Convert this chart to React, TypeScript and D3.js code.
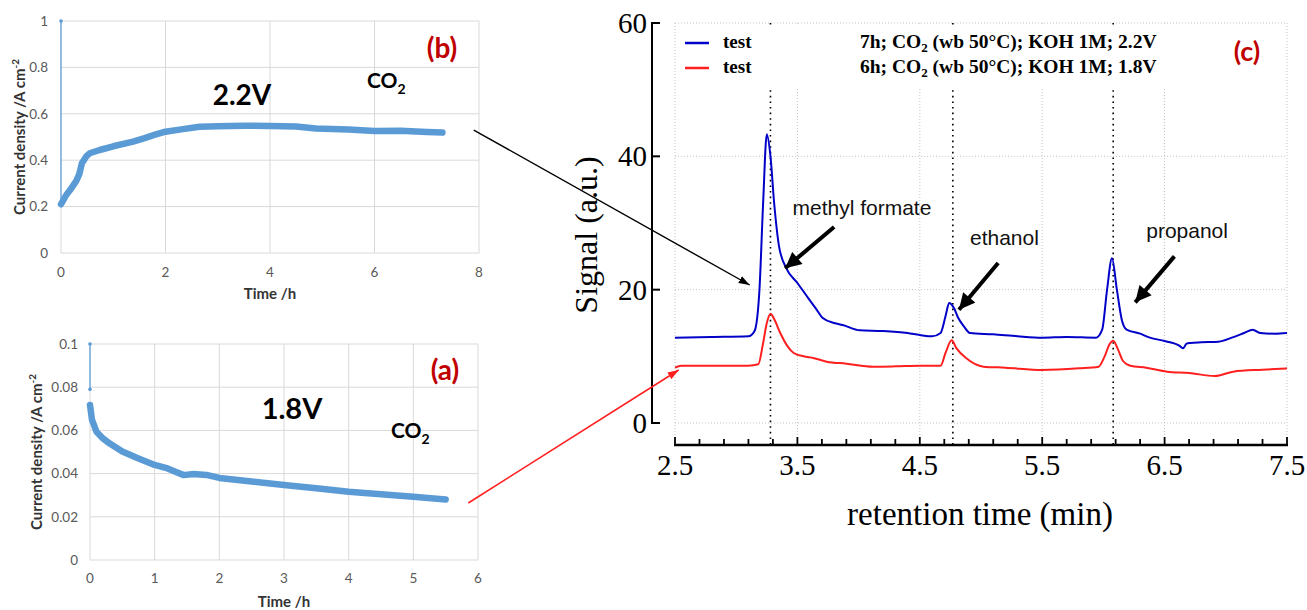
import React from 'react'
import * as d3 from 'd3'

// panel (b): 2.2V chronoamperometry
const bTime = [0, 0.05, 0.1, 0.17, 0.29, 0.35, 0.4, 0.48, 0.55, 0.74, 1.0, 1.38, 1.6, 1.8, 2.0, 2.3, 2.65, 3.0, 3.5, 4.0, 4.5, 4.88, 5.5, 6.0, 6.5, 7.0, 7.3]
const bCurrent = [0.21, 0.23, 0.25, 0.27, 0.31, 0.34, 0.387, 0.415, 0.43, 0.444, 0.46, 0.48, 0.495, 0.51, 0.523, 0.533, 0.544, 0.546, 0.549, 0.547, 0.545, 0.537, 0.532, 0.526, 0.527, 0.522, 0.519]
const bSpike = [1.0, 0.21]
const bTicksX = [0, 2, 4, 6, 8]
const bTicksY = [0, 0.2, 0.4, 0.6, 0.8, 1]
const bLabelsY = ['0', '0.2', '0.4', '0.6', '0.8', '1']

// panel (a): 1.8V chronoamperometry
const aTime = [0, 0.03, 0.1, 0.2, 0.3, 0.5, 0.75, 1.0, 1.2, 1.35, 1.45, 1.6, 1.8, 2.0, 2.5, 3.0, 3.5, 4.0, 4.5, 5.0, 5.5]
const aCurrent = [0.0718, 0.065, 0.0594, 0.0563, 0.054, 0.0502, 0.047, 0.044, 0.0424, 0.0405, 0.0393, 0.0398, 0.0394, 0.038, 0.0363, 0.0347, 0.0332, 0.0316, 0.0304, 0.0293, 0.028]
const aSpike = [0.1, 0.079]
const aTicksX = [0, 1, 2, 3, 4, 5, 6]
const aTicksY = [0, 0.02, 0.04, 0.06, 0.08, 0.1]
const aLabelsY = ['0', '0.02', '0.04', '0.06', '0.08', '0.1']

// panel (c): GC chromatograms
const blueTime = [2.5, 2.8, 3.1, 3.15, 3.19, 3.22, 3.25, 3.28, 3.31, 3.35, 3.41, 3.5, 3.59, 3.65, 3.71, 3.8, 3.87, 4.01, 4.2, 4.4, 4.5, 4.6, 4.67, 4.71, 4.74, 4.78, 4.81, 4.86, 4.91, 5.1, 5.3, 5.5, 5.7, 5.94, 5.99, 6.03, 6.07, 6.11, 6.15, 6.19, 6.3, 6.38, 6.5, 6.62, 6.65, 6.68, 6.71, 6.8, 6.94, 7.05, 7.15, 7.22, 7.28, 7.4, 7.5]
const blueSignal = [12.8, 12.9, 13.0, 13.8, 20, 33, 43.3, 40, 33, 26.5, 23.2, 21, 18.7, 17.2, 15.7, 15.0, 14.7, 13.9, 13.8, 13.5, 13.2, 13.0, 13.5, 16, 18.0, 17.2, 15.9, 14.5, 13.5, 13.3, 13.0, 12.8, 12.9, 12.8, 14, 20, 24.7, 20, 15.5, 14, 13.4, 12.8, 12.3, 11.6, 11.2, 11.9, 12.0, 12.1, 12.2, 12.8, 13.5, 14.0, 13.5, 13.4, 13.5]
const redTime = [2.5, 2.55, 2.8, 3.1, 3.18, 3.22, 3.25, 3.28, 3.31, 3.36, 3.42, 3.47, 3.55, 3.63, 3.74, 3.9, 4.12, 4.3, 4.5, 4.67, 4.71, 4.76, 4.8, 4.88, 5.02, 5.2, 5.5, 5.8, 5.96, 6.01, 6.05, 6.08, 6.12, 6.16, 6.22, 6.35, 6.52, 6.7, 6.91, 7.06, 7.3, 7.5]
const redSignal = [8.3, 8.6, 8.6, 8.6, 8.8, 12, 15, 16.4, 15.6, 13.5, 11.5, 10.5, 10.0, 9.75, 9.2, 8.9, 8.45, 8.5, 8.6, 8.6, 10.5, 12.4, 11.2, 9.7, 8.45, 8.3, 7.95, 8.2, 8.45, 10, 11.8, 12.35, 11, 9.3, 8.6, 8.3, 7.7, 7.5, 7.05, 7.7, 8.0, 8.2]
const rtTicks = [2.5, 3.5, 4.5, 5.5, 6.5, 7.5]
const signalTicks = [0, 20, 40, 60]
const peakMarks = [3.28, 4.77, 6.08]
const legendNames = ['test', 'test']
const legendHours = ['7h', '6h']
const legendVolts = ['2.2V', '1.8V']
const legendColors = ['#0000c8', '#ff1f1f']

const calibri = 'Lato, "Open Sans", sans-serif'
const times = '"Liberation Serif", "DejaVu Serif", serif'
const arial = '"Liberation Sans", Arial, sans-serif'
const excelBlue = '#5b9bd5'
const gridGrey = '#d9d9d9'
const darkRed = '#c00000'

// scales for the three panels
const bx = d3.scaleLinear().domain([0, 8]).range([61, 479])
const by = d3.scaleLinear().domain([0, 1]).range([253, 21])
const ax = d3.scaleLinear().domain([0, 6]).range([90, 478])
const ay = d3.scaleLinear().domain([0, 0.1]).range([560, 344])
const cx = d3.scaleLinear().domain([2.5, 7.5]).range([675, 1287])
const cy = d3.scaleLinear().domain([0, 60]).range([423, 23])

const ExcelPanel = (props: any) => {
    const { x, y, time, current, spike, ticksX, ticksY, labelsY, titleYx, xLabelY, xTitleY, labelRight } = props
    const line = d3.line<number>().x((d, i) => x(time[i])).y(d => y(d))
    const [x0, x1] = x.range()
    const [y0, y1] = y.range()
    return (
        <g>
            {ticksY.map((t: number) => (
                <line key={'gy' + t} x1={x0} x2={x1} y1={y(t)} y2={y(t)} stroke={gridGrey} strokeWidth={1} />
            ))}
            {ticksX.map((t: number) => (
                <line key={'gx' + t} x1={x(t)} x2={x(t)} y1={y0} y2={y1} stroke={gridGrey} strokeWidth={1} />
            ))}
            {ticksY.map((t: number, i: number) => (
                <text key={'ly' + t} x={labelRight} y={y(t)} dy="0.35em" textAnchor="end" fontFamily={calibri} fontSize={13.5} fill="#595959">{labelsY[i]}</text>
            ))}
            {ticksX.map((t: number) => (
                <text key={'lx' + t} x={x(t)} y={xLabelY} textAnchor="middle" fontFamily={calibri} fontSize={13.5} fill="#595959">{t}</text>
            ))}
            <text x={(x0 + x1) / 2} y={xTitleY} textAnchor="middle" fontFamily={calibri} fontWeight="bold" fontSize={15} fill="#333">Time /h</text>
            <text transform={`translate(${titleYx},${(y0 + y1) / 2}) rotate(-90)`} textAnchor="middle" fontFamily={calibri} fontWeight="bold" fontSize={15} fill="#333">
                Current density /A cm<tspan dy="-6" fontSize={10}>-2</tspan>
            </text>
            <line x1={x(0)} x2={x(0)} y1={y(spike[0])} y2={y(spike[1])} stroke={excelBlue} strokeWidth={1.2} />
            <circle cx={x(0)} cy={y(spike[0])} r={1.8} fill={excelBlue} />
            <circle cx={x(0)} cy={y(spike[1])} r={1.8} fill={excelBlue} />
            <path d={line(current) || ''} fill="none" stroke={excelBlue} strokeWidth={6.5} strokeLinejoin="round" strokeLinecap="round" />
        </g>
    )
}

const App = () => {
    const blueLine = d3.line<number>().x((d, i) => cx(blueTime[i])).y(d => cy(d)).curve(d3.curveMonotoneX)
    const redLine = d3.line<number>().x((d, i) => cx(redTime[i])).y(d => cy(d)).curve(d3.curveMonotoneX)
    const minorTicks = d3.range(0, 26).map(i => 2.5 + i * 0.2)

    // arrows joining panels
    const fromB = [bx(7.9), by(0.53)]
    const toBlue = [cx(3.11), cy(20.7)]
    const fromA = [ax(5.85), ay(0.0264)]
    const toRed = [cx(2.53), cy(7.95)]

    const notes = [
        { label: 'methyl formate', lx: 3.46, ly: 31.2, from: [3.8, 29.4], to: [3.4, 23.2] },
        { label: 'ethanol', lx: 4.91, ly: 26.7, from: [5.14, 24], to: [4.82, 17] },
        { label: 'propanol', lx: 6.35, ly: 27.7, from: [6.58, 25], to: [6.26, 18.1] },
    ]

    return (
        <svg width={1307} height={610} style={{ position: 'absolute', left: 0, top: 0, background: '#fff' }}>
            <defs>
                <marker id="headBlack" viewBox="0 0 10 7" refX={10} refY={3.5} markerWidth={11} markerHeight={8} markerUnits="userSpaceOnUse" orient="auto">
                    <path d="M0,0 L10,3.5 L0,7 z" fill="#000" />
                </marker>
                <marker id="headRed" viewBox="0 0 10 7" refX={10} refY={3.5} markerWidth={11} markerHeight={8} markerUnits="userSpaceOnUse" orient="auto">
                    <path d="M0,0 L10,3.5 L0,7 z" fill="#ff1f1f" />
                </marker>
                <marker id="headBig" viewBox="0 0 10 10" refX={10} refY={5} markerWidth={17} markerHeight={16} markerUnits="userSpaceOnUse" orient="auto">
                    <path d="M0,0 L10,5 L0,10 z" fill="#000" />
                </marker>
            </defs>

            {/* (b) */}
            <ExcelPanel x={bx} y={by} time={bTime} current={bCurrent} spike={bSpike} ticksX={bTicksX} ticksY={bTicksY} labelsY={bLabelsY}
                titleYx={25} xLabelY={277} xTitleY={299} labelRight={48} />
            <text x={242} y={105} textAnchor="middle" fontFamily={calibri} fontWeight="bold" fontSize={28} fill="#000">2.2V</text>
            <text x={367} y={88} fontFamily={calibri} fontWeight="bold" fontSize={21} fill="#000">CO<tspan dy="6" fontSize={14}>2</tspan></text>
            <text x={442} y={58} textAnchor="middle" fontFamily={calibri} fontWeight="bold" fontSize={28} fill={darkRed}>(b)</text>

            {/* (a) */}
            <ExcelPanel x={ax} y={ay} time={aTime} current={aCurrent} spike={aSpike} ticksX={aTicksX} ticksY={aTicksY} labelsY={aLabelsY}
                titleYx={42} xLabelY={583} xTitleY={607} labelRight={78} />
            <text x={292} y={419} textAnchor="middle" fontFamily={calibri} fontWeight="bold" fontSize={29} fill="#000">1.8V</text>
            <text x={391} y={438} fontFamily={calibri} fontWeight="bold" fontSize={21} fill="#000">CO<tspan dy="6" fontSize={14}>2</tspan></text>
            <text x={445} y={380} textAnchor="middle" fontFamily={calibri} fontWeight="bold" fontSize={28} fill={darkRed}>(a)</text>

            {/* (c) grid */}
            {signalTicks.map(t => (
                <line key={'cg' + t} x1={cx(2.5)} x2={cx(7.5)} y1={cy(t)} y2={cy(t)} stroke="#c4c4c4" strokeWidth={1} strokeDasharray="1,2" />
            ))}
            {rtTicks.map(t => (
                <line key={'cv' + t} x1={cx(t)} x2={cx(t)} y1={cy(60)} y2={445} stroke="#c4c4c4" strokeWidth={1} strokeDasharray="1,2" />
            ))}
            {peakMarks.map(t => (
                <line key={'pm' + t} x1={cx(t)} x2={cx(t)} y1={cy(60)} y2={445} stroke="#000" strokeWidth={1.6} strokeDasharray="1.6,4" />
            ))}
            {/* legend box hides the grid behind it */}
            <rect x={cx(2.5) + 2} y={cy(60) + 3} width={cx(7.5) - cx(2.5) - 5} height={62} fill="#fff" />

            {/* (c) axes */}
            <line x1={652} x2={652} y1={cy(0) + 1} y2={cy(60) - 1} stroke="#000" strokeWidth={2} />
            {signalTicks.map(t => (
                <g key={'yt' + t}>
                    <line x1={652} x2={660} y1={cy(t)} y2={cy(t)} stroke="#000" strokeWidth={2} />
                    <text x={647} y={cy(t)} dy="0.35em" textAnchor="end" fontFamily={times} fontSize={29} fill="#000">{t}</text>
                </g>
            ))}
            <line x1={cx(2.5) - 1} x2={cx(7.5) + 1} y1={445} y2={445} stroke="#000" strokeWidth={2.5} />
            {minorTicks.map((t, i) => (
                <line key={'xt' + i} x1={cx(t)} x2={cx(t)} y1={445} y2={i % 5 === 0 ? 437 : 439} stroke="#000" strokeWidth={1.8} />
            ))}
            {rtTicks.map(t => (
                <text key={'xl' + t} x={cx(t)} y={475} textAnchor="middle" fontFamily={times} fontSize={29} fill="#000">{t}</text>
            ))}
            <text x={980} y={525} textAnchor="middle" fontFamily={times} fontSize={33} fill="#000">retention time (min)</text>
            <text transform="translate(597,235) rotate(-90)" textAnchor="middle" fontFamily={times} fontSize={32} fill="#000">Signal (a.u.)</text>

            {/* (c) traces */}
            <path d={redLine(redSignal) || ''} fill="none" stroke={legendColors[1]} strokeWidth={2} />
            <path d={blueLine(blueSignal) || ''} fill="none" stroke={legendColors[0]} strokeWidth={2} />

            {/* legend */}
            {legendNames.map((n, i) => (
                <g key={'lg' + i}>
                    <line x1={685} x2={709} y1={43 + i * 25} y2={43 + i * 25} stroke={legendColors[i]} strokeWidth={2.5} />
                    <text x={723} y={48 + i * 25} fontFamily={times} fontWeight="bold" fontSize={19} fill="#000">{n}</text>
                    <text x={860} y={48 + i * 25} fontFamily={times} fontWeight="bold" fontSize={19.5} fill="#000">
                        {legendHours[i]}; CO<tspan dy="4" fontSize={13}>2</tspan><tspan dy="-4"> (wb 50°C); KOH 1M; {legendVolts[i]}</tspan>
                    </text>
                </g>
            ))}
            <text x={1247} y={61} textAnchor="middle" fontFamily={calibri} fontWeight="bold" fontSize={27} fill={darkRed}>(c)</text>

            {/* peak labels */}
            {notes.map(n => (
                <g key={n.label}>
                    <text x={cx(n.lx)} y={cy(n.ly)} fontFamily={arial} fontSize={21} fill="#111">{n.label}</text>
                    <line x1={cx(n.from[0])} y1={cy(n.from[1])} x2={cx(n.to[0])} y2={cy(n.to[1])} stroke="#000" strokeWidth={4} markerEnd="url(#headBig)" />
                </g>
            ))}

            {/* connectors */}
            <line x1={fromB[0]} y1={fromB[1]} x2={toBlue[0]} y2={toBlue[1]} stroke="#000" strokeWidth={1.4} markerEnd="url(#headBlack)" />
            <line x1={fromA[0]} y1={fromA[1]} x2={toRed[0]} y2={toRed[1]} stroke="#ff1f1f" strokeWidth={1.6} markerEnd="url(#headRed)" />
        </svg>
    )
}

export default App
